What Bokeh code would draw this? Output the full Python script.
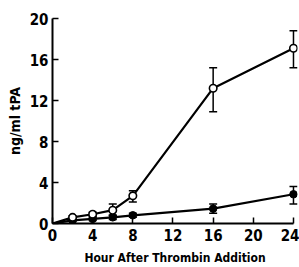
from bokeh.plotting import figure
from bokeh.models import ColumnDataSource, Whisker, TeeHead, FixedTicker, Range1d
from bokeh.embed import file_html
from bokeh.resources import INLINE

hours = [0, 2, 4, 6, 8, 16, 24]
open_vals = [0.0, 0.6, 0.9, 1.3, 2.7, 13.2, 17.1]
open_upper = [0.0, 0.75, 1.1, 1.9, 3.2, 15.2, 18.8]
open_lower = [0.0, 0.45, 0.7, 0.8, 2.1, 10.9, 15.2]
filled_vals = [0.0, 0.3, 0.45, 0.6, 0.8, 1.45, 2.85]
filled_upper = [0.0, 0.4, 0.6, 0.8, 1.0, 1.9, 3.6]
filled_lower = [0.0, 0.2, 0.3, 0.4, 0.6, 1.0, 1.9]
x_ticks = [0, 4, 8, 12, 16, 20, 24]
y_ticks = [0, 4, 8, 12, 16, 20]

FONT = "DejaVu Sans Condensed"

p = figure(width=299, height=267, output_backend="svg", toolbar_location=None,
           x_range=Range1d(0, 24.4), y_range=Range1d(0, 20),
           min_border_left=52, min_border_right=2, min_border_top=18, min_border_bottom=43)
p.grid.visible = False
p.outline_line_color = None

src_o = ColumnDataSource(dict(x=hours, y=open_vals, up=open_upper, lo=open_lower))
src_f = ColumnDataSource(dict(x=hours, y=filled_vals, up=filled_upper, lo=filled_lower))

for src in (src_o, src_f):
    w = Whisker(base="x", upper="up", lower="lo", source=src, line_width=1.5, line_color="black",
                upper_head=TeeHead(size=8, line_width=1.5, line_color="black"),
                lower_head=TeeHead(size=8, line_width=1.5, line_color="black"))
    p.add_layout(w)

p.line("x", "y", source=src_f, line_width=2.2, color="black")
p.line("x", "y", source=src_o, line_width=2.2, color="black")
p.scatter("x", "y", source=ColumnDataSource(dict(x=hours[1:], y=filled_vals[1:])),
          size=7.5, fill_color="black", line_color="black")
p.scatter("x", "y", source=ColumnDataSource(dict(x=hours[1:], y=open_vals[1:])),
          size=7.5, fill_color="white", line_color="black", line_width=1.6)

for ax in (p.xaxis[0], p.yaxis[0]):
    ax.axis_line_width = 2
    ax.axis_line_color = "black"
    ax.major_tick_in = 6
    ax.major_tick_out = 0
    ax.major_tick_line_width = 1.5
    ax.minor_tick_line_color = None
    ax.major_label_text_font = FONT
    ax.major_label_text_font_style = "bold"
    ax.major_label_text_font_size = "15px"
    ax.major_label_text_color = "black"
    ax.axis_label_text_font = FONT
    ax.axis_label_text_font_style = "bold"
    ax.axis_label_text_color = "black"

p.xaxis.ticker = FixedTicker(ticks=x_ticks)
p.yaxis.ticker = FixedTicker(ticks=y_ticks)
p.xaxis.bounds = (0, 24)
p.xaxis.major_label_standoff = 5
p.yaxis.major_label_standoff = 4
p.xaxis.axis_label = "Hour After Thrombin Addition"
p.yaxis.axis_label = "ng/ml tPA"
p.xaxis.axis_label_text_font_size = "12px"
p.yaxis.axis_label_text_font_size = "14px"
p.xaxis.axis_label_standoff = 7
p.yaxis.axis_label_standoff = 4

open("out.html", "w").write(file_html(p, INLINE))
